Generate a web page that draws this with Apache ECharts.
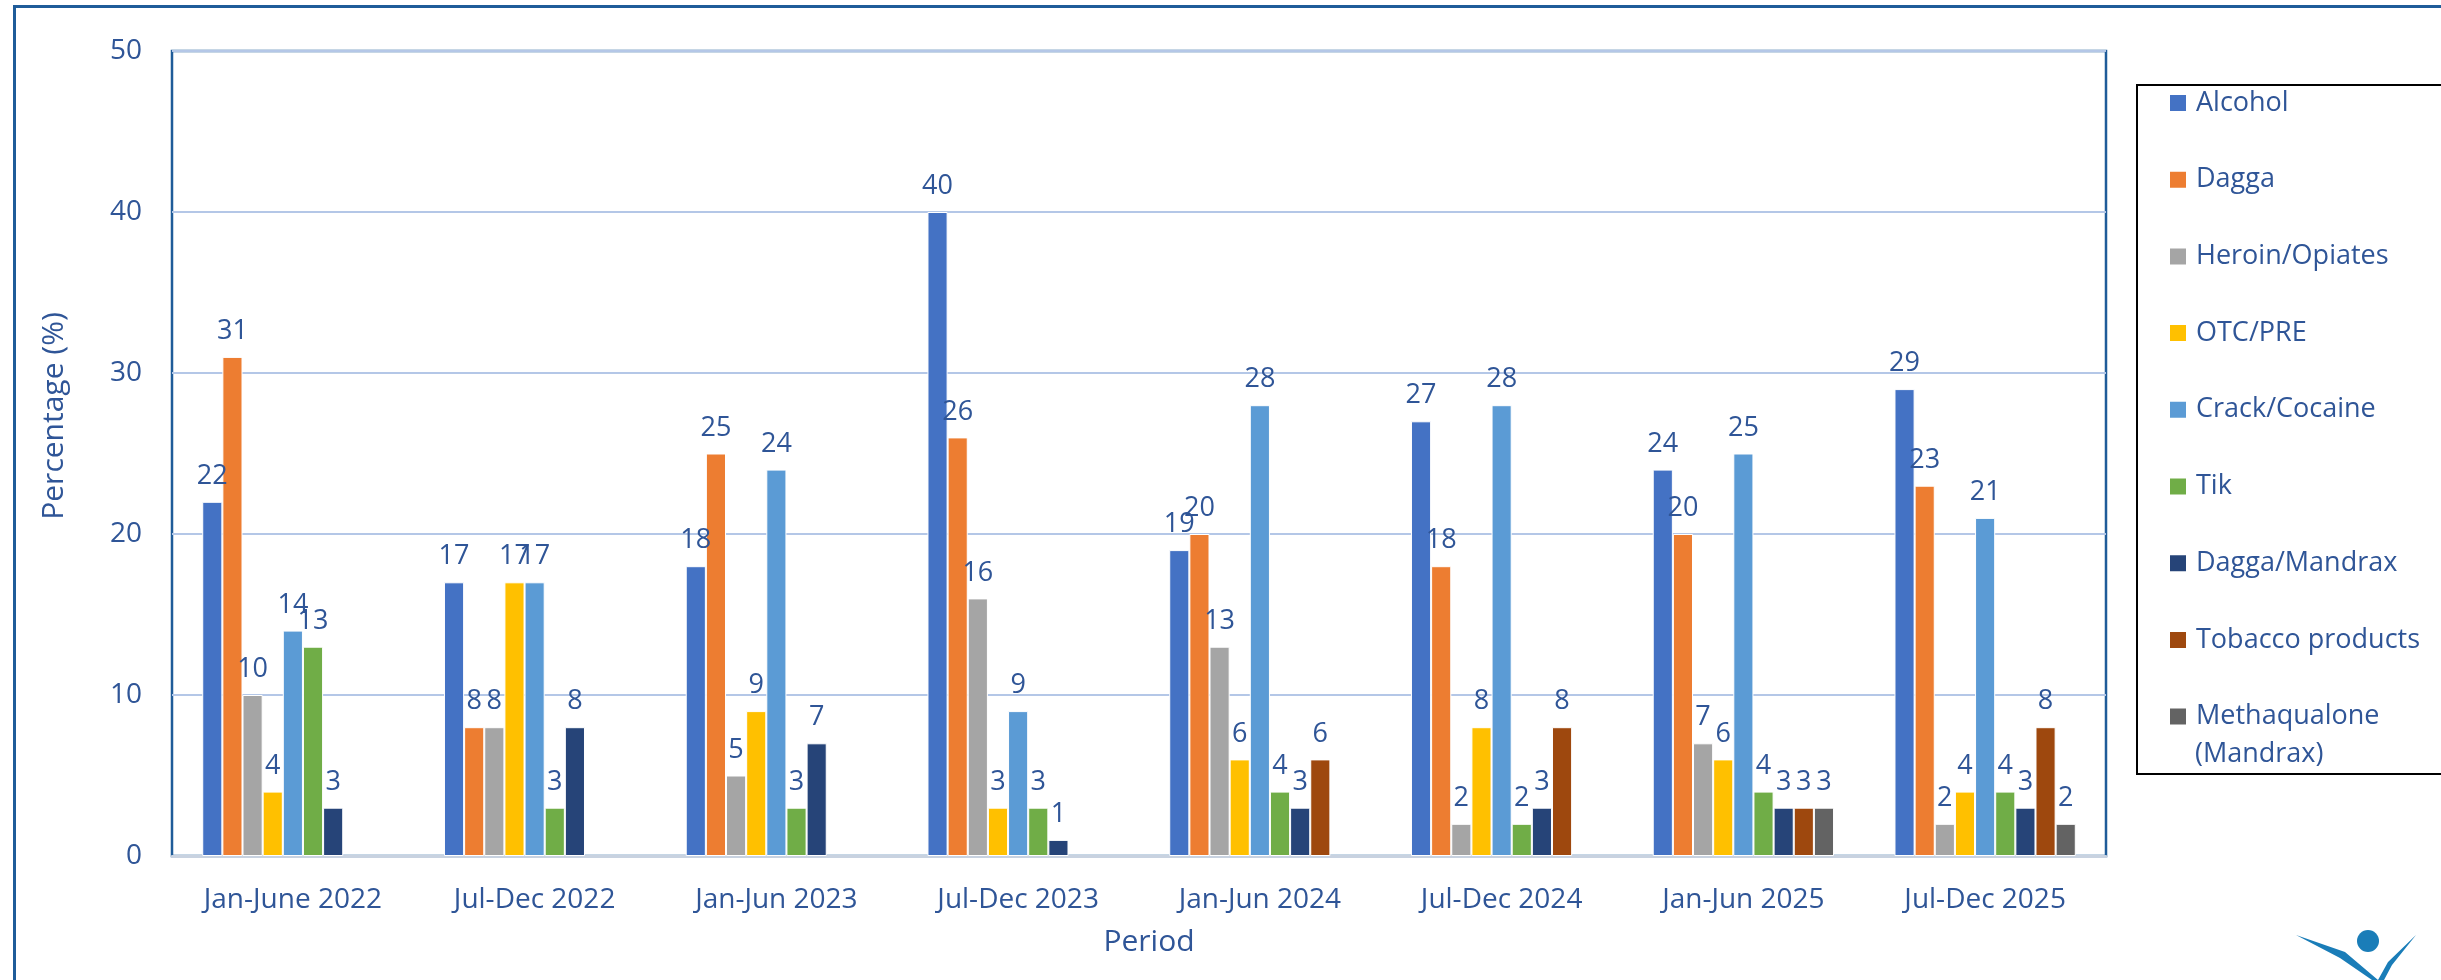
<!DOCTYPE html>
<html>
<head>
<meta charset="utf-8">
<script src="https://cdn.jsdelivr.net/npm/echarts@6/dist/echarts.min.js"></script>
<style>
  html, body { margin: 0; padding: 0; background: #fff; }
  #chart { width: 2441px; height: 980px; }
</style>
</head>
<body>
<div id="chart"></div>
<script>
// periods on the x axis
const periods = ['Jan-June 2022', 'Jul-Dec 2022', 'Jan-Jun 2023', 'Jul-Dec 2023',
  'Jan-Jun 2024', 'Jul-Dec 2024', 'Jan-Jun 2025', 'Jul-Dec 2025'];

// one array per substance, null = no bar for that period
const alcohol = [22, 17, 18, 40, 19, 27, 24, 29];
const dagga = [31, 8, 25, 26, 20, 18, 20, 23];
const heroin = [10, 8, 5, 16, 13, 2, 7, 2];
const otcPre = [4, 17, 9, 3, 6, 8, 6, 4];
const crack = [14, 17, 24, 9, 28, 28, 25, 21];
const tik = [13, 3, 3, 3, 4, 2, 4, 4];
const daggaMandrax = [3, 8, 7, 1, 3, 3, 3, 3];
const tobacco = [null, null, null, null, 6, 8, 3, 8];
const methaqualone = [null, null, null, null, null, null, 3, 2];

const yTicks = [0, 10, 20, 30, 40, 50];

const seriesDefs = [
  { name: 'Alcohol', data: alcohol, color: '#4472C4' },
  { name: 'Dagga', data: dagga, color: '#ED7D31' },
  { name: 'Heroin/Opiates', data: heroin, color: '#A5A5A5' },
  { name: 'OTC/PRE', data: otcPre, color: '#FFC000' },
  { name: 'Crack/Cocaine', data: crack, color: '#5B9BD5' },
  { name: 'Tik', data: tik, color: '#70AD47' },
  { name: 'Dagga/Mandrax', data: daggaMandrax, color: '#264478' },
  { name: 'Tobacco products', data: tobacco, color: '#9E480E' },
  { name: 'Methaqualone (Mandrax)', data: methaqualone, color: '#636363' }
];

const textBlue = '#2F5597';
const frameBlue = '#1F5C99';
const font = '"Open Sans", "Noto Sans", sans-serif';
const legendTop = 88;
const legendPitch = 76.7;

const chart = echarts.init(document.getElementById('chart'));

const option = {
  animation: false,
  textStyle: { fontFamily: font },
  grid: {
    left: 172, right: 335, top: 51, bottom: 124,
    show: true,
    borderColor: frameBlue,
    borderWidth: 2.5
  },
  legend: {
    orient: 'vertical',
    left: 2168,
    top: legendTop,
    padding: 0,
    itemWidth: 18,
    itemHeight: 18,
    itemGap: legendPitch - 30,
    icon: 'rect',
    textStyle: { color: textBlue, fontSize: 27, lineHeight: 30, fontFamily: font, padding: [0, 0, 0, 4] },
    formatter: name => name === 'Methaqualone (Mandrax)' ? 'Methaqualone' : name,
    data: seriesDefs.map(s => s.name)
  },
  xAxis: {
    type: 'category',
    data: periods,
    axisTick: { show: false },
    axisLine: { lineStyle: { color: '#C8D2E0', width: 3 } },
    axisLabel: { color: textBlue, fontSize: 28, margin: 30 }
  },
  yAxis: {
    type: 'value',
    min: yTicks[0],
    max: yTicks[yTicks.length - 1],
    interval: 10,
    axisLine: { show: false },
    axisTick: { show: false },
    axisLabel: { color: textBlue, fontSize: 28, margin: 30 },
    splitLine: { lineStyle: { color: '#B4C7E7', width: 2 } }
  },
  series: seriesDefs.map(s => ({
    name: s.name,
    type: 'bar',
    data: s.data,
    barGap: '0%',
    barCategoryGap: '25%',
    itemStyle: { color: s.color, borderColor: '#fff', borderWidth: 1 },
    label: {
      show: true,
      position: 'top',
      distance: 12,
      color: textBlue,
      fontSize: 27
    }
  })),
  graphic: [
    // outer frame
    { type: 'rect', left: 12, top: 4, z: -10, silent: true,
      shape: { width: 2460, height: 1000 },
      style: { fill: 'none', stroke: frameBlue, lineWidth: 3 } },
    // legend box
    { type: 'rect', left: 2136, top: 84, z: -5, silent: true,
      shape: { width: 340, height: 689 },
      style: { fill: '#fff', stroke: '#000', lineWidth: 2 } },
    { type: 'text', x: 2195, y: legendTop + 15 + 8 * legendPitch + 38, silent: true,
      style: { text: '(Mandrax)', fill: textBlue, fontSize: 27, fontFamily: font,
        verticalAlign: 'middle' } },
    // axis titles
    { type: 'text', x: 1149, y: 942, silent: true,
      style: { text: 'Period', fill: textBlue, fontSize: 30, fontFamily: font,
        align: 'center', verticalAlign: 'middle' } },
    { type: 'text', x: 54, y: 416, rotation: Math.PI / 2, silent: true,
      style: { text: 'Percentage (%)', fill: textBlue, fontSize: 30, fontFamily: font,
        align: 'center', verticalAlign: 'middle' } },
    // logo fragment, bottom right
    { type: 'circle', shape: { cx: 2368, cy: 941, r: 11 }, silent: true,
      style: { fill: '#1A7DB8' } },
    { type: 'polygon', silent: true,
      shape: { points: [[2296, 935], [2345, 952], [2378, 980], [2372, 980], [2340, 958]] },
      style: { fill: '#1A7DB8' } },
    { type: 'polygon', silent: true,
      shape: { points: [[2416, 935], [2392, 965], [2384, 980], [2378, 980], [2388, 962]] },
      style: { fill: '#1A7DB8' } }
  ]
};

chart.setOption(option);
</script>
</body>
</html>
